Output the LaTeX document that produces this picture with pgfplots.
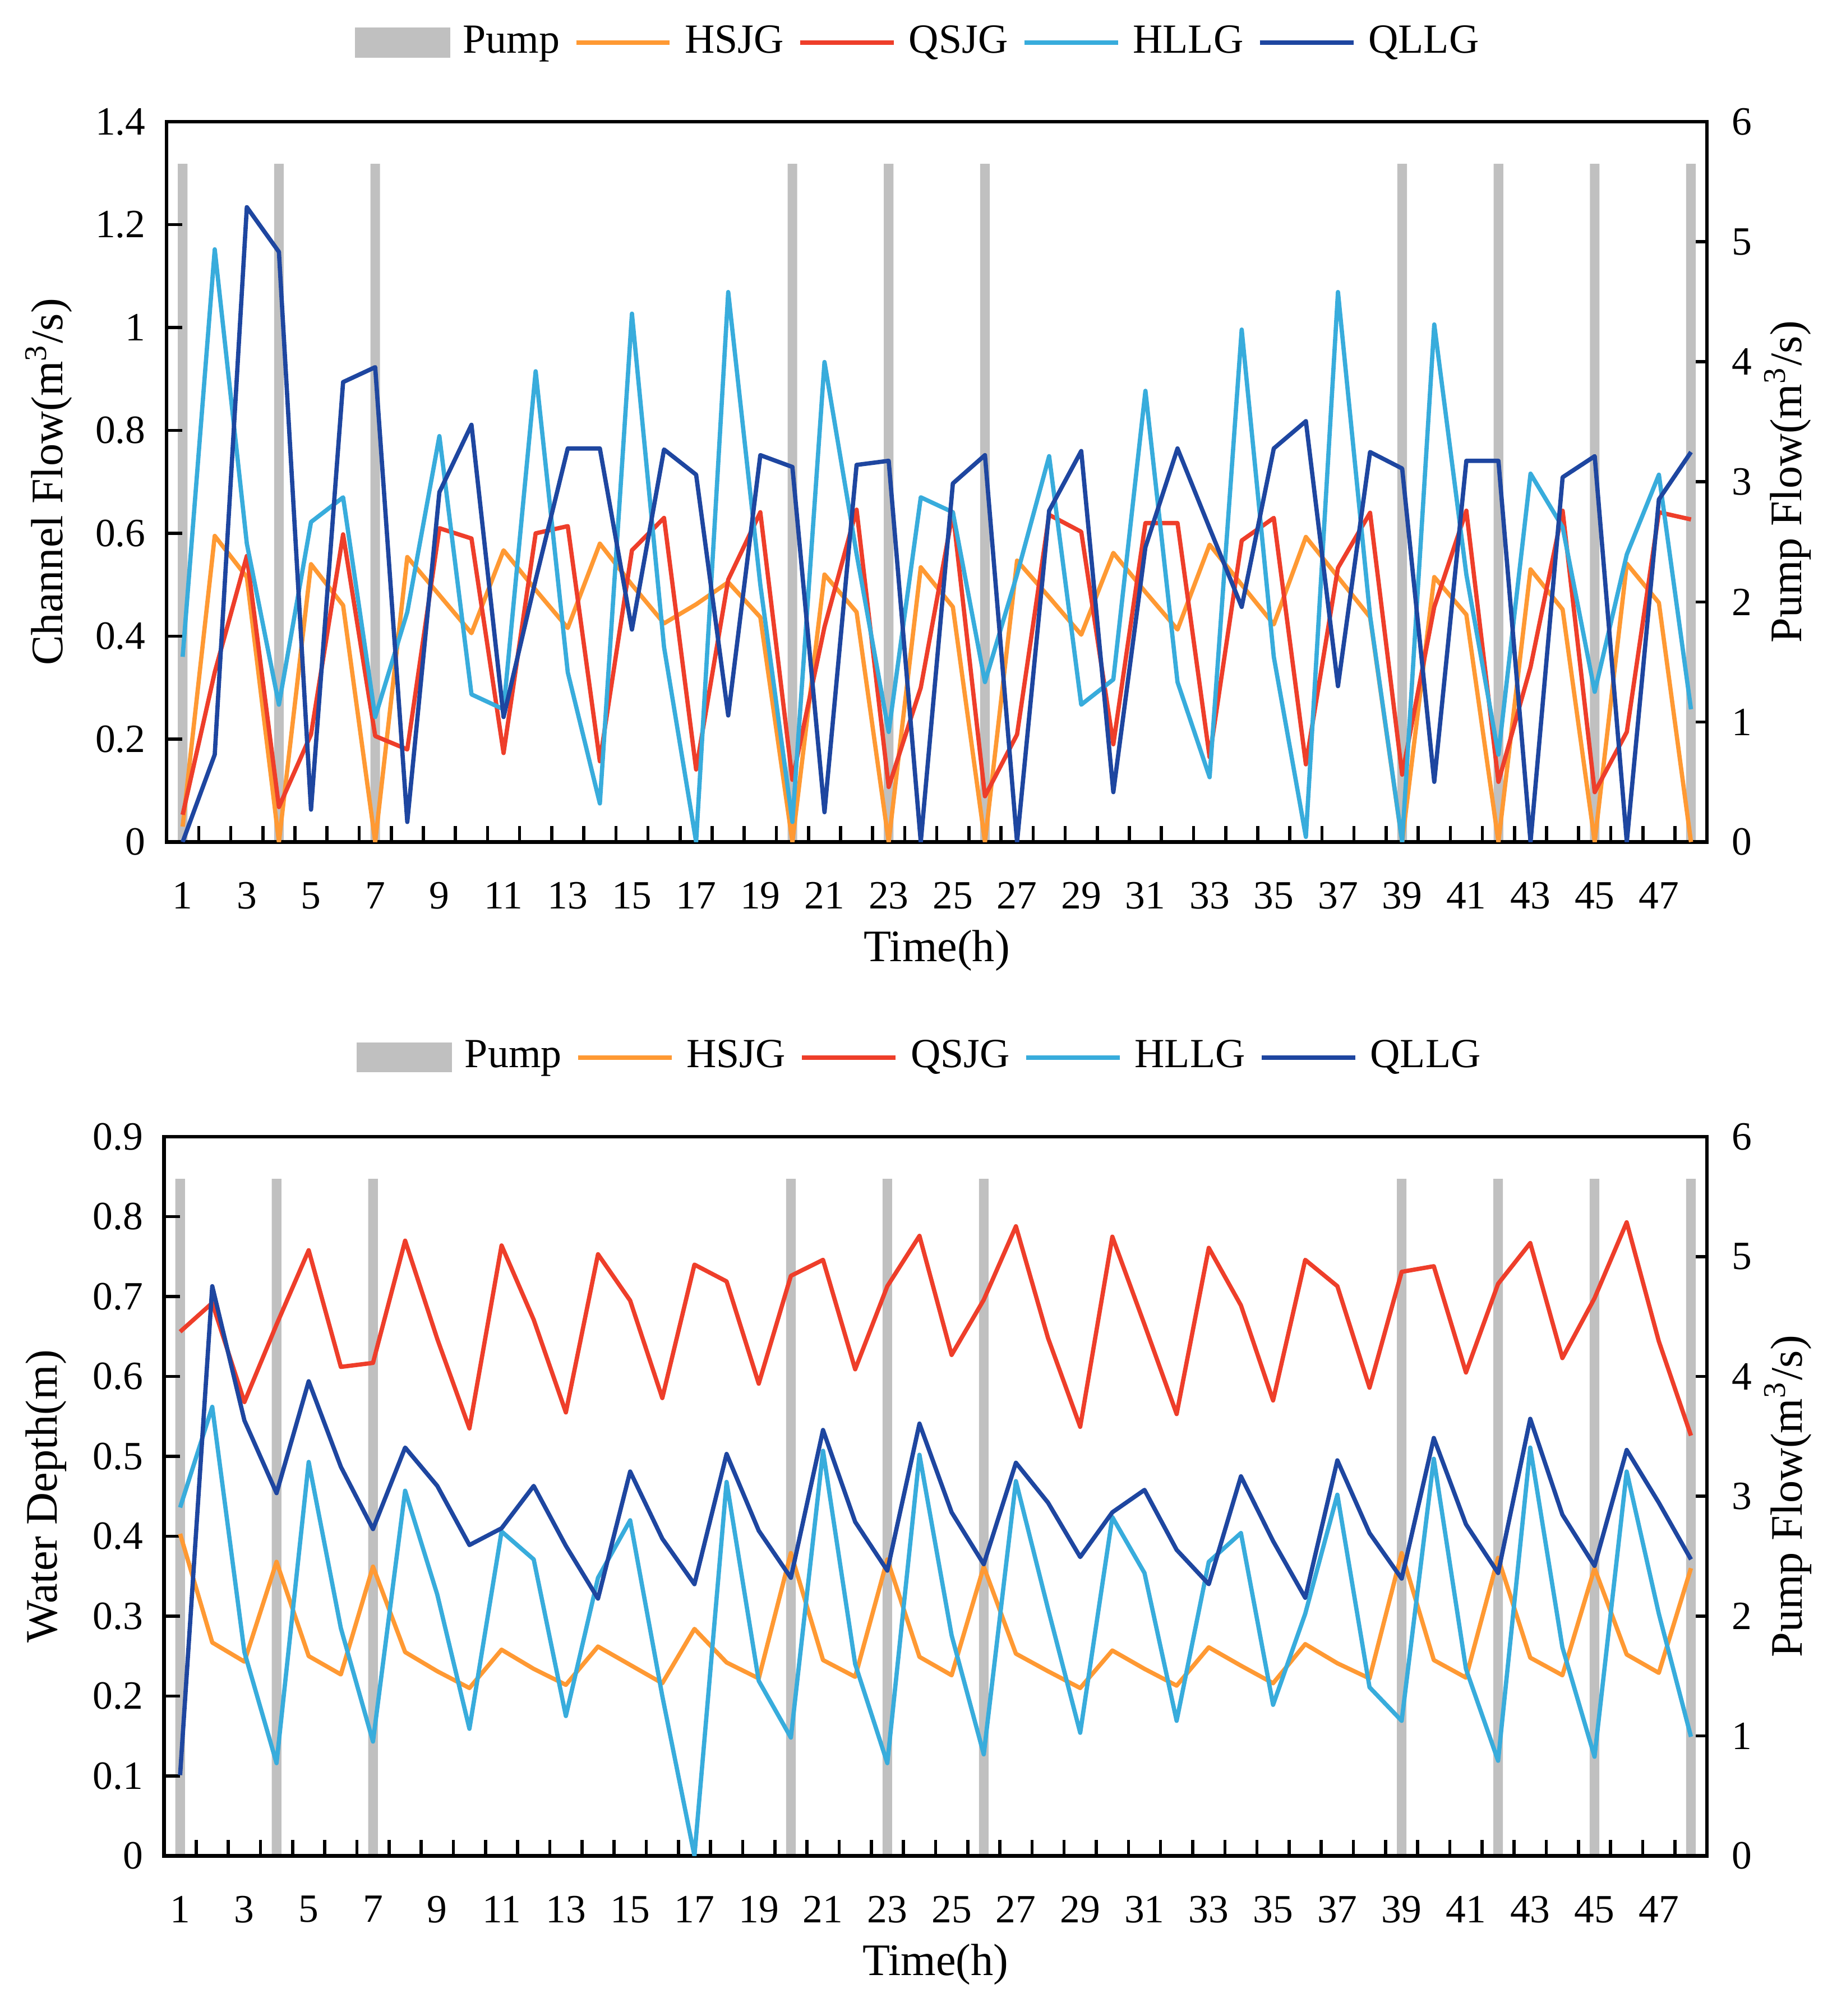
\documentclass[border=0pt]{standalone}
\usepackage{pgfplots}
\pgfplotsset{compat=1.18}
\usepackage{pgfplotstable}
\usepackage{fontspec}
\setmainfont{Liberation Serif}

\definecolor{cHS}{RGB}{255,153,51}
\definecolor{cQS}{RGB}{238,62,42}
\definecolor{cHL}{RGB}{56,172,220}
\definecolor{cQL}{RGB}{30,70,160}
\definecolor{pumpgray}{RGB}{192,192,192}

\pgfplotstableread{
h p
1 5.65
4 5.65
7 5.65
20 5.65
23 5.65
26 5.65
39 5.65
42 5.65
45 5.65
48 5.65
}\pump

\pgfplotstableread{
h HSJG QSJG HLLG QLLG
1 0.03 0.053 0.36 0
2 0.595 0.33 1.152 0.17
3 0.515 0.556 0.58 1.234
4 0 0.068 0.267 1.147
5 0.54 0.209 0.622 0.063
6 0.46 0.598 0.67 0.894
7 0 0.206 0.243 0.923
8 0.554 0.18 0.447 0.039
9 0.48 0.61 0.789 0.68
10 0.406 0.59 0.287 0.811
11 0.567 0.173 0.258 0.243
12 0.49 0.60 0.915 0.51
13 0.416 0.614 0.33 0.765
14 0.58 0.157 0.075 0.765
15 0.50 0.567 1.027 0.413
16 0.425 0.63 0.379 0.763
17 0.462 0.141 0 0.714
18 0.505 0.51 1.069 0.246
19 0.437 0.641 0.50 0.752
20 0 0.121 0.039 0.729
21 0.52 0.418 0.933 0.058
22 0.447 0.646 0.56 0.733
23 0 0.107 0.214 0.741
24 0.534 0.30 0.67 0
25 0.457 0.641 0.641 0.697
26 0 0.089 0.311 0.752
27 0.547 0.209 0.52 0
28 0.476 0.636 0.75 0.644
29 0.403 0.603 0.267 0.76
30 0.562 0.19 0.316 0.097
31 0.486 0.62 0.877 0.573
32 0.413 0.62 0.311 0.765
33 0.578 0.165 0.126 0.61
34 0.50 0.586 0.996 0.457
35 0.423 0.63 0.36 0.765
36 0.593 0.151 0.01 0.818
37 0.515 0.533 1.069 0.303
38 0.437 0.64 0.44 0.758
39 0 0.131 0 0.726
40 0.515 0.457 1.006 0.117
41 0.442 0.644 0.52 0.741
42 0 0.117 0.17 0.741
43 0.53 0.34 0.716 0
44 0.452 0.644 0.612 0.709
45 0 0.097 0.292 0.75
46 0.541 0.214 0.559 0
47 0.465 0.641 0.714 0.666
48 0 0.627 0.258 0.758
}\flow

\pgfplotstableread{
h HSJG QSJG HLLG QLLG
1 0.403 0.656 0.436 0.101
2 0.267 0.692 0.562 0.713
3 0.243 0.568 0.255 0.545
4 0.368 0.665 0.116 0.454
5 0.25 0.758 0.493 0.594
6 0.227 0.612 0.285 0.487
7 0.362 0.617 0.143 0.409
8 0.255 0.77 0.457 0.511
9 0.231 0.647 0.327 0.463
10 0.21 0.535 0.159 0.389
11 0.258 0.764 0.406 0.41
12 0.234 0.671 0.371 0.463
13 0.214 0.555 0.175 0.388
14 0.262 0.753 0.348 0.322
15 0.239 0.695 0.42 0.481
16 0.216 0.573 0.20 0.397
17 0.284 0.74 0 0.34
18 0.242 0.719 0.468 0.503
19 0.222 0.591 0.219 0.407
20 0.379 0.726 0.148 0.348
21 0.245 0.746 0.507 0.533
22 0.224 0.609 0.24 0.418
23 0.371 0.713 0.116 0.357
24 0.249 0.776 0.502 0.541
25 0.226 0.627 0.276 0.43
26 0.362 0.696 0.127 0.365
27 0.253 0.788 0.469 0.492
28 0.231 0.648 0.309 0.442
29 0.21 0.537 0.154 0.374
30 0.257 0.775 0.424 0.43
31 0.234 0.665 0.354 0.458
32 0.213 0.553 0.169 0.383
33 0.261 0.761 0.368 0.34
34 0.238 0.689 0.404 0.475
35 0.216 0.570 0.189 0.394
36 0.265 0.746 0.303 0.323
37 0.241 0.713 0.452 0.495
38 0.222 0.586 0.211 0.404
39 0.379 0.731 0.169 0.347
40 0.245 0.738 0.497 0.523
41 0.223 0.605 0.234 0.415
42 0.373 0.716 0.119 0.354
43 0.248 0.767 0.511 0.547
44 0.226 0.623 0.261 0.427
45 0.36 0.698 0.124 0.363
46 0.252 0.793 0.481 0.508
47 0.229 0.644 0.303 0.442
48 0.36 0.526 0.149 0.371
}\depth

\pgfplotsset{
  base/.style={
    scale only axis, width=12.02cm,
    xmin=0.5, xmax=48.5,
    /pgf/number format/assume math mode=true,
    tick label style={font=\fontsize{8.9}{10}\selectfont},
    label style={font=\fontsize{10.5}{12}\selectfont},
    tick align=inside,
    major tick length=3.5pt,
    tick style={black, line width=0.7pt},
    axis line style={line width=0.8pt},
  },
  pumpax/.style={
    base,
    axis y line*=right, axis x line=none,
    ymin=0, ymax=6, ytick={0,1,...,6},
    yticklabel style={xshift=0.7mm},
    every axis y label/.style={at={(axis description cs:1.0524,0.5)}, rotate=90, anchor=center},
    ylabel={Pump Flow(m\textsuperscript{3}/s)},
  },
  lineax/.style={
    base,
    ytick pos=left, xtick pos=bottom,
    xtick={1.5,2.5,...,47.5}, xticklabels={},
    extra x ticks={1,3,...,47},
    extra x tick labels={1,3,5,7,9,11,13,15,17,19,21,23,25,27,29,31,33,35,37,39,41,43,45,47},
    extra x tick style={major tick length=0pt},
    xticklabel style={yshift=-1.9mm},
    yticklabel style={xshift=-0.4mm},
    every axis x label/.style={at={(axis description cs:0.5,-0.151)}, anchor=center},
    every axis y label/.style={at={(axis description cs:-0.0765,0.5)}, rotate=90, anchor=center},
    xlabel={Time(h)},
    legend columns=-1,
    legend style={draw=none, fill=none, font=\fontsize{9.2}{10}\selectfont,
      /tikz/every odd column/.append style={column sep=0.3mm},
      /tikz/every even column/.append style={column sep=0.4mm}},
    legend image code/.code={\draw[#1, line width=1.0pt] (0mm,0mm) -- (7.3mm,0mm);},
  },
  ln/.style={line width=0.95pt, line join=round},
}

\begin{document}
\begin{tikzpicture}
% ---------- top chart ----------
\begin{axis}[pumpax, height=5.62cm, at={(0cm,0cm)}, anchor=north west]
\addplot[ybar, bar width=0.3, fill=pumpgray, draw=none] table[x=h,y=p]{\pump};
\end{axis}
\begin{axis}[lineax, height=5.62cm, at={(0cm,0cm)}, anchor=north west,
  ymin=0, ymax=1.4, ytick={0,0.2,...,1.4},
  ylabel={Channel Flow(m\textsuperscript{3}/s)},
  legend style={at={(0.49,1.110)}, anchor=center}]
\addlegendimage{legend image code/.code={\fill[pumpgray] (0mm,-1.1mm) rectangle (7.3mm,1.1mm);}}
\addlegendentry{Pump}
\addplot[ln, cHS] table[x=h,y=HSJG]{\flow}; \addlegendentry{HSJG}
\addplot[ln, cQS] table[x=h,y=QSJG]{\flow}; \addlegendentry{QSJG}
\addplot[ln, cHL] table[x=h,y=HLLG]{\flow}; \addlegendentry{HLLG}
\addplot[ln, cQL] table[x=h,y=QLLG]{\flow}; \addlegendentry{QLLG}
\end{axis}
% ---------- bottom chart ----------
\begin{axis}[pumpax, height=5.61cm, at={(-0.02cm,-7.92cm)}, anchor=north west, width=12.04cm]
\addplot[ybar, bar width=0.3, fill=pumpgray, draw=none] table[x=h,y=p]{\pump};
\end{axis}
\begin{axis}[lineax, height=5.61cm, at={(-0.02cm,-7.92cm)}, anchor=north west, width=12.04cm,
  ymin=0, ymax=0.9, ytick={0,0.1,...,0.9},
  ylabel={Water Depth(m)},
  legend style={at={(0.492,1.1105)}, anchor=center}]
\addlegendimage{legend image code/.code={\fill[pumpgray] (0mm,-1.1mm) rectangle (7.3mm,1.1mm);}}
\addlegendentry{Pump}
\addplot[ln, cHS] table[x=h,y=HSJG]{\depth}; \addlegendentry{HSJG}
\addplot[ln, cQS] table[x=h,y=QSJG]{\depth}; \addlegendentry{QSJG}
\addplot[ln, cHL] table[x=h,y=HLLG]{\depth}; \addlegendentry{HLLG}
\addplot[ln, cQL] table[x=h,y=QLLG]{\depth}; \addlegendentry{QLLG}
\end{axis}
\pgfresetboundingbox
\path[use as bounding box] (-1.30cm,0.95cm) rectangle (13.10cm,-14.78cm);
\end{tikzpicture}
\end{document}
